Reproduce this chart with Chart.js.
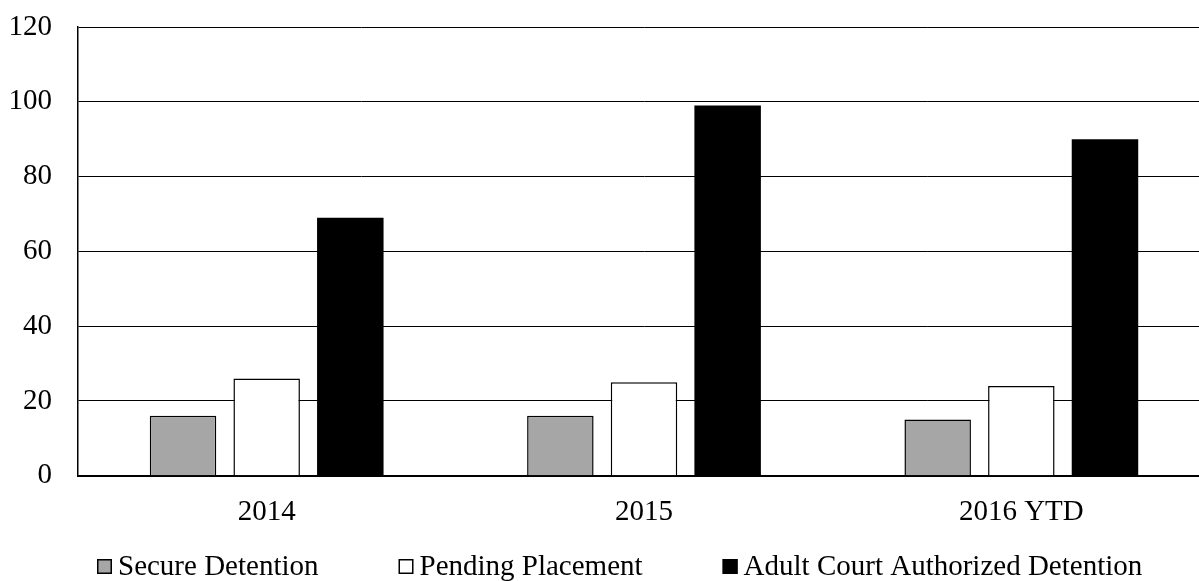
<!DOCTYPE html>
<html>
<head>
<meta charset="utf-8">
<script src="https://cdn.jsdelivr.net/npm/chart.js@4/dist/chart.umd.min.js"></script>
<style>
  html, body { margin: 0; padding: 0; background: #fff; overflow: hidden; }
  #wrap { width: 1220px; height: 581px; }
</style>
</head>
<body>
<div id="wrap"><canvas id="chart" width="1220" height="581"></canvas></div>
<script>
// Detention counts by year
const categories = ['2014', '2015', '2016 YTD'];
const seriesNames = ['Secure Detention', 'Pending Placement', 'Adult Court Authorized Detention'];
const secureDetention = [16, 16, 15];
const pendingPlacement = [26, 25, 24];
const adultCourtDetention = [69, 99, 90];
const yTicks = [0, 20, 40, 60, 80, 100, 120];

const FONT = 'Liberation Serif, "Times New Roman", serif';

// Legend drawn below the axis with tight box-to-text spacing
const serifLegend = {
  id: 'serifLegend',
  afterDraw(chart, args, opts) {
    const ctx = chart.ctx;
    ctx.save();
    ctx.font = opts.fontSize + 'px ' + FONT;
    ctx.textBaseline = 'middle';
    ctx.textAlign = 'left';
    let x = opts.startX;
    const y = opts.centerY;
    chart.data.datasets.forEach(ds => {
      const b = opts.boxSize;
      ctx.fillStyle = ds.backgroundColor;
      ctx.fillRect(x, y - b / 2, b, b);
      ctx.strokeStyle = '#000';
      ctx.lineWidth = 1.5;
      ctx.strokeRect(x + 0.75, y - b / 2 + 0.75, b - 1.5, b - 1.5);
      const tx = x + b + opts.textGap;
      ctx.fillStyle = '#000';
      ctx.fillText(ds.label, tx, y + 1);
      x = tx + ctx.measureText(ds.label).width + opts.itemGap;
    });
    ctx.restore();
  }
};

const chart = new Chart(document.getElementById('chart'), {
  type: 'bar',
  data: {
    labels: categories,
    datasets: [
      { label: seriesNames[0], data: secureDetention, backgroundColor: '#a6a6a6', borderColor: '#000', borderWidth: 1.5 },
      { label: seriesNames[1], data: pendingPlacement, backgroundColor: '#ffffff', borderColor: '#000', borderWidth: 1.5 },
      { label: seriesNames[2], data: adultCourtDetention, backgroundColor: '#000000', borderColor: '#000', borderWidth: 0 }
    ]
  },
  options: {
    responsive: false,
    animation: false,
    devicePixelRatio: 1,
    layout: { padding: { left: 10, right: 10, top: 27, bottom: 31.5 } },
    datasets: { bar: { categoryPercentage: 0.665, barPercentage: 0.795 } },
    plugins: {
      legend: { display: false },
      tooltip: { enabled: false },
      serifLegend: { startX: 97, centerY: 566.5, boxSize: 15, textGap: 6, itemGap: 80, fontSize: 29 }
    },
    scales: {
      x: {
        offset: true,
        grid: { display: false, drawTicks: false },
        border: { display: true, color: '#000', width: 2 },
        ticks: { color: '#000', padding: 19.5, font: { family: FONT, size: 29 } }
      },
      y: {
        min: 0,
        max: 120,
        afterFit: s => { s.width = 68; },
        afterBuildTicks: s => { s.ticks = yTicks.map(v => ({ value: v })); },
        grid: { color: '#000', lineWidth: 1, drawTicks: true, tickLength: 26, tickColor: 'rgba(0,0,0,0)' },
        border: { display: true, color: '#000', width: 1.5 },
        ticks: { color: '#000', padding: 0, font: { family: FONT, size: 29 } }
      }
    }
  },
  plugins: [serifLegend]
});
</script>
</body>
</html>
